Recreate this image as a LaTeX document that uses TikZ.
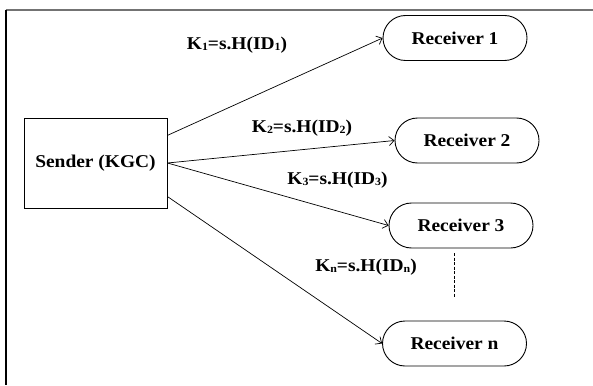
\documentclass[tikz,border=0pt]{standalone}
\usepackage{fontspec}
\setmainfont{Liberation Serif}[FakeStretch=1.08]
\usetikzlibrary{arrows.meta}
\newcommand\keyidx[1]{\raisebox{-1pt}{\fontsize{11}{11}\selectfont #1}}
\begin{document}
\begin{tikzpicture}[x=1pt,y=-1pt,
  every node/.style={font=\fontsize{18}{20}\selectfont\bfseries, inner sep=0pt},
  sender/.style={draw, line width=0.9pt, minimum width=143pt, minimum height=90pt},
  receiver/.style={draw, line width=0.9pt, minimum width=144pt, minimum height=45pt, rounded corners=22.5pt},
  keylabel/.style={anchor=center},
  link/.style={line width=0.7pt, -{Straight Barb[length=5pt,width=9pt,line width=0.7pt]}}]
  \useasboundingbox (0,0) rectangle (593,385);
  % frame lines along the top and the left
  \draw[line width=1.5pt, black!55] (5.5,10) -- (593,10);
  \draw[line width=1.5pt] (6,10) -- (6,385);
  % nodes
  \node[sender] (s) at (95.5,163) {Sender (KGC)};
  \node[receiver] (r1) at (455,38) {Receiver 1};
  \node[receiver] (r2) at (467,140.5) {Receiver 2};
  \node[receiver] (r3) at (461,225.5) {Receiver 3};
  \node[receiver] (rn) at (454.5,343.5) {Receiver n};
  % key labels
  \node[keylabel] (k1) at (237,45) {K\keyidx{1}=s.H(ID\keyidx{1})};
  \node[keylabel] (k2) at (302,128) {K\keyidx{2}=s.H(ID\keyidx{2})};
  \node[keylabel] (k3) at (337.5,180) {K\keyidx{3}=s.H(ID\keyidx{3})};
  \node[keylabel] (kn) at (366,267) {K\keyidx{n}=s.H(ID\keyidx{n})};
  % key distribution links
  \draw[link] (s.21) -- (r1.west);
  \draw[link] (s.east) -- (r2.west);
  \draw[link] (s.east) -- (r3.west);
  \draw[link] (s.-25) -- (rn.west);
  % ellipsis between receiver 3 and receiver n
  \coordinate (d1) at (454,253);
  \coordinate (d2) at (454,298);
  \draw[line width=0.7pt, dash pattern=on 3pt off 1.5pt] (d1) -- (d2);
\end{tikzpicture}
\end{document}
